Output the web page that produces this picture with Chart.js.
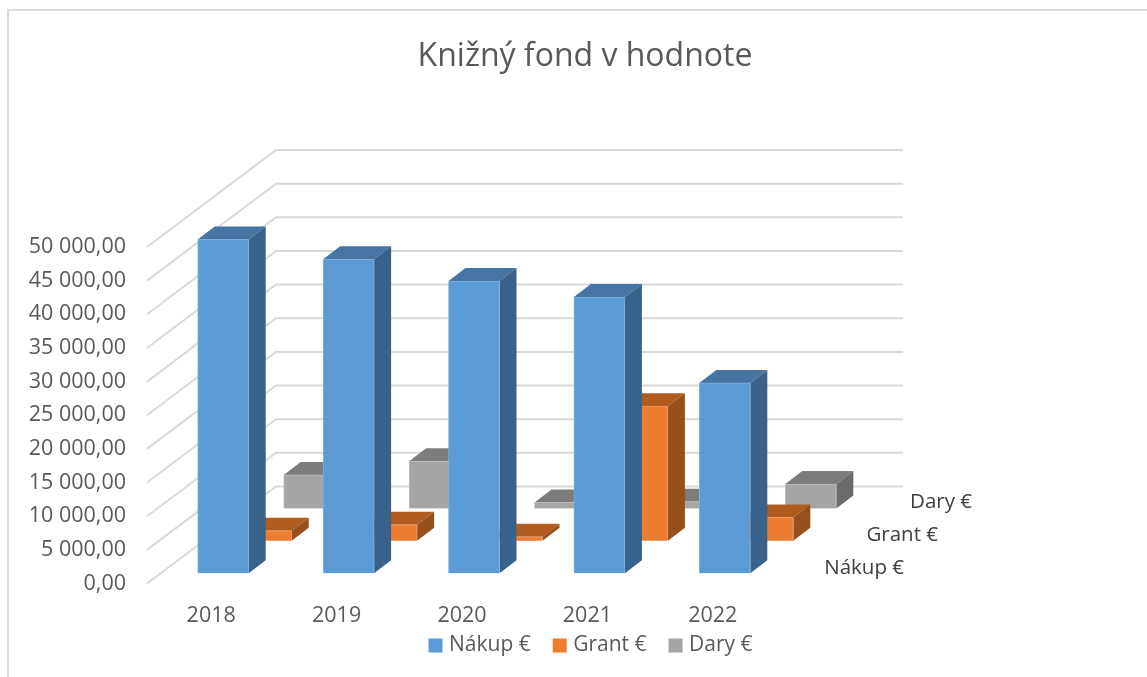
<!DOCTYPE html>
<html>
<head>
<meta charset="utf-8">
<title>Knižný fond v hodnote</title>
<script src="https://cdn.jsdelivr.net/npm/chart.js@4"></script>
<style>
  html, body { margin: 0; padding: 0; background: #fff; overflow: hidden; }
  #wrap { position: relative; width: 1147px; height: 677px; }
  #frame { position: absolute; left: 7px; top: 9px; right: -4px; bottom: -4px; border: 2px solid #dcdcdc; }
  canvas { position: absolute; left: 0; top: 0; }
</style>
</head>
<body>
<div id="wrap">
  <div id="frame"></div>
  <canvas id="chart" width="1147" height="677"></canvas>
</div>
<script>
'use strict';

/// data
const years = ['2018', '2019', '2020', '2021', '2022'];
const nakup = [49600, 46640, 43400, 41030, 28270];
const grant = [1490, 2380, 600, 20000, 3470];
const dary = [4970, 6990, 890, 1000, 3630];

/// colours: front, top, side, thin edge of the front
const blueFaces = ['#5B9BD5', '#4675A3', '#38628A', '#7FB0DE'];
const orangeFaces = ['#ED7D31', '#B25B1F', '#96501B', '#F29A60'];
const grayFaces = ['#A5A5A5', '#7C7C7C', '#6B6B6B', '#BDBDBD'];

/// 3d look
const wallDx = 129, wallDy = -97;
const rowDx = 43, rowDy = -32.4;
const firstDx = 13.5, firstDy = -10.3;
const barDx = 17, barDy = -13;
const fontName = '"Open Sans", sans-serif';

const formatTick = function (v) {
  const whole = String(Math.trunc(v)).replace(/\B(?=(\d{3})+$)/g, ' ');
  return whole + ',00';
};

const polygon = function (ctx, points, color) {
  ctx.fillStyle = color;
  ctx.beginPath();
  points.forEach((p, i) => (i ? ctx.lineTo(p[0], p[1]) : ctx.moveTo(p[0], p[1])));
  ctx.closePath();
  ctx.fill();
};

/// back wall and side wall, follows the y scale ticks
const wallPlugin = {
  id: 'walls',
  afterLayout(chart) {
    // title sits a bit left of the legend in the original
    chart.titleBlock.left -= 7.5;
    chart.titleBlock.right -= 7.5;
    // tick labels are clipped to the axis box, so open it up
    chart.scales.y.left = 0;
    chart.scales.x.bottom = chart.height;
  },
  beforeDatasetsDraw(chart) {
    const { ctx, chartArea, scales } = chart;
    ctx.save();
    ctx.strokeStyle = '#D9D9D9';
    ctx.lineWidth = 2;
    scales.y.ticks.forEach((t) => {
      const y = scales.y.getPixelForValue(t.value);
      ctx.beginPath();
      ctx.moveTo(chartArea.left, y);
      ctx.lineTo(chartArea.left + wallDx, y + wallDy);
      ctx.lineTo(chartArea.right + wallDx, y + wallDy);
      ctx.stroke();
    });
    ctx.restore();
  },
  afterDatasetsDraw(chart) {
    /// series names along the depth axis
    const { ctx, chartArea } = chart;
    ctx.save();
    ctx.font = '20.5px ' + fontName;
    ctx.fillStyle = '#404040';
    ctx.textAlign = 'right';
    ctx.textBaseline = 'middle';
    chart.data.datasets.forEach((ds, i) => {
      ctx.fillText(ds.label, chartArea.right + 130 + i * 34, chartArea.bottom - 15 - i * 33);
    });
    ctx.restore();
  },
};

/// shifts each series to its row and adds top and side faces
const depthPlugin = {
  id: 'depth',
  beforeDatasetDraw(chart, args) {
    const { ctx } = chart;
    const i = args.index;
    const faces = chart.data.datasets[i].faces;
    ctx.save();
    ctx.translate(firstDx + i * rowDx, firstDy + i * rowDy);
    args.meta.data.forEach((bar) => {
      const l = bar.x - bar.width / 2;
      const r = bar.x + bar.width / 2;
      const t = bar.y;
      const b = bar.base;
      polygon(ctx, [[l, t], [r, t], [r + barDx, t + barDy], [l + barDx, t + barDy]], faces[1]);
      polygon(ctx, [[r, t], [r + barDx, t + barDy], [r + barDx, b + barDy], [r, b]], faces[2]);
    });
  },
  afterDatasetDraw(chart) {
    chart.ctx.restore();
  },
};

const makeSeries = function (label, values, faces) {
  return {
    label: label,
    data: values,
    faces: faces,
    backgroundColor: faces[0],
    borderColor: faces[3],
    borderWidth: 1,
    barThickness: 51,
    grouped: false,
    clip: false,
  };
};

new Chart(document.getElementById('chart'), {
  type: 'bar',
  data: {
    labels: years,
    datasets: [
      makeSeries('Nákup €', nakup, blueFaces),
      makeSeries('Grant €', grant, orangeFaces),
      makeSeries('Dary €', dary, grayFaces),
    ],
  },
  plugins: [wallPlugin, depthPlugin],
  options: {
    responsive: false,
    animation: false,
    layout: { padding: { left: 38, right: 0, top: 0, bottom: 11 } },
    plugins: {
      tooltip: { enabled: false },
      title: {
        display: true,
        text: 'Knižný fond v hodnote',
        color: '#595959',
        font: { family: fontName, size: 32, weight: 'normal', lineHeight: 1.2 },
        padding: { top: 38, bottom: 170.6 },
      },
      legend: {
        position: 'bottom',
        labels: {
          color: '#595959',
          font: { family: fontName, size: 21 },
          // small box + thick outline, gives a 14px square close to the text
          boxWidth: 6,
          boxHeight: 6,
          padding: 26,
          generateLabels: (chart) =>
            chart.data.datasets.map((ds, i) => ({
              text: ds.label,
              fillStyle: ds.backgroundColor,
              strokeStyle: ds.backgroundColor,
              lineWidth: 8,
              fontColor: '#595959',
              datasetIndex: i,
            })),
        },
      },
    },
    scales: {
      x: {
        grid: { display: false },
        border: { display: false },
        ticks: { color: '#595959', font: { family: fontName, size: 21.5 }, padding: 11, labelOffset: 1.5 },
        afterFit: (s) => { s.height = 25.5; },
      },
      y: {
        min: 0,
        max: 50000,
        grid: { display: false },
        border: { display: false },
        ticks: {
          stepSize: 5000,
          color: '#595959',
          font: { family: fontName, size: 21.5 },
          padding: 13,
          callback: formatTick,
        },
        afterFit: (s) => { s.width = 109; },
      },
      /// empty right box, keeps the plot width and leaves room for the depth
      depth: {
        type: 'linear',
        position: 'right',
        grid: { display: false },
        border: { display: false },
        ticks: { display: false },
        afterFit: (s) => { s.width = 373; },
      },
    },
  },
});
</script>
</body>
</html>
